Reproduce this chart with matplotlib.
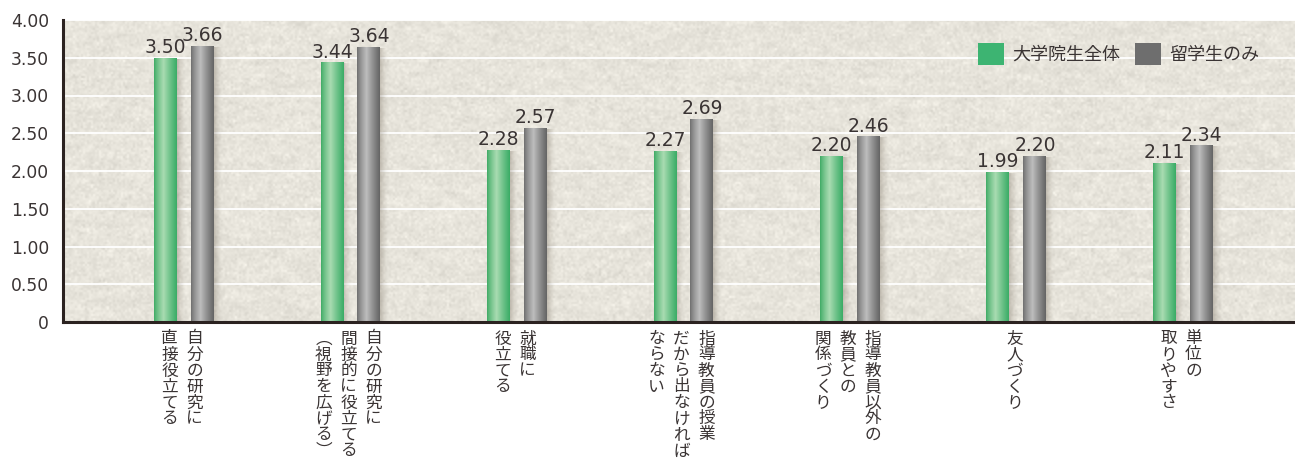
import numpy as np
import matplotlib
matplotlib.use("Agg")
import matplotlib.pyplot as plt
from matplotlib.patches import Patch
from matplotlib.transforms import ScaledTranslation

# ---- data ----
categories = [
    "自分の研究に\n直接役立てる",
    "自分の研究に\n間接的に役立てる\n︵視野を広げる︶",
    "就職に\n役立てる",
    "指導教員の授業\nだから出なければ\nならない",
    "指導教員以外の\n教員との\n関係づくり",
    "友人づくり",
    "単位の\n取りやすさ",
]
all_students = [3.50, 3.44, 2.28, 2.27, 2.20, 1.99, 2.11]
intl_students = [3.66, 3.64, 2.57, 2.69, 2.46, 2.20, 2.34]
series_names = ["大学院生全体", "留学生のみ"]
y_ticks = [0, 0.5, 1.0, 1.5, 2.0, 2.5, 3.0, 3.5, 4.0]

JP = "Noto Sans CJK JP"
NUM = "DejaVu Sans"
TEXT = "#3a3434"
GREEN = "#3db472"
GRAY = "#6e6e6e"

W, H, DPI = 1295, 459, 100
fig = plt.figure(figsize=(W / DPI, H / DPI), dpi=DPI)
fig.patch.set_facecolor("white")
ax = fig.add_axes([63 / W, (H - 322) / H, (W - 63) / W, 302 / H])

# ---- textured background ----
rng = np.random.default_rng(7)
th, tw = 151, 616
noise = rng.normal(0, 1, (th, tw))
k = np.ones(9) / 9
noise = np.apply_along_axis(lambda r: np.convolve(r, k, mode="same"), 1, noise)
k2 = np.ones(3) / 3
noise = np.apply_along_axis(lambda c: np.convolve(c, k2, mode="same"), 0, noise)
noise += 0.5 * rng.normal(0, 1, (th, tw))
noise = noise / noise.std()
base = np.array([231, 228, 219]) / 255.0
tex = base[None, None, :] + 0.024 * noise[:, :, None]
tex = np.clip(tex, 0, 1)
ax.imshow(tex, extent=[0, 1, 0, 1], transform=ax.transAxes, aspect="auto",
          zorder=0, interpolation="bilinear")

x = np.arange(len(categories))
off = 0.111
bw = 0.138
ax.set_xlim(-0.7267, 6.673)
ax.set_ylim(0, 4.0)

# grid
for yv in y_ticks[1:]:
    ax.axhline(yv, color="white", lw=1.3, zorder=1)

bars_g = ax.bar(x - off, all_students, bw, color=GREEN, zorder=3, linewidth=0)
bars_k = ax.bar(x + off, intl_students, bw, color=GRAY, zorder=3, linewidth=0)


def cyl(c_edge, c_mid, c_right):
    t = np.linspace(0, 1, 64)
    out = np.zeros((1, 64, 3))
    peak = 0.42
    for i, tv in enumerate(t):
        if tv <= peak:
            f = tv / peak
            col = c_edge + (c_mid - c_edge) * (f ** 0.8)
        else:
            f = (tv - peak) / (1 - peak)
            col = c_mid + (c_right - c_mid) * (f ** 0.9)
        out[0, i] = col
    return out


g_grad = cyl(np.array([62, 170, 100]) / 255, np.array([170, 220, 178]) / 255,
             np.array([58, 172, 102]) / 255)
k_grad = cyl(np.array([110, 110, 110]) / 255, np.array([190, 190, 190]) / 255,
             np.array([100, 100, 100]) / 255)

px = (6.673 + 0.7267) / (W - 63)  # data units per pixel
shadow = np.zeros((1, 32, 4))
shadow[0, :, 0:3] = np.array([120, 110, 95]) / 255
shadow[0, :, 3] = 0.35 * (1 - np.linspace(0, 1, 32)) ** 1.5

for bars, grad in ((bars_g, g_grad), (bars_k, k_grad)):
    for p in bars:
        x0, w, h = p.get_x(), p.get_width(), p.get_height()
        ax.imshow(shadow, extent=[x0 + w, x0 + w + 9 * px, 0, h - 0.02],
                  aspect="auto", zorder=2, interpolation="bilinear")
        im = ax.imshow(grad, extent=[x0, x0 + w, 0, h], aspect="auto",
                       zorder=3.5, interpolation="bilinear")
        im.set_clip_path(p)

# value labels
for bars, vals in ((bars_g, all_students), (bars_k, intl_students)):
    for p, v in zip(bars, vals):
        ax.annotate(f"{v:.2f}", (p.get_x() + p.get_width() / 2, v),
                    xytext=(0, 0.5), textcoords="offset points",
                    ha="center", va="bottom", fontsize=13.5, family=NUM,
                    color=TEXT, zorder=5)

# axes styling
ax.set_yticks(y_ticks)
ax.set_yticklabels(["0" if t == 0 else f"{t:.2f}" for t in y_ticks],
                   family=NUM, fontsize=12.3, color=TEXT)
ax.tick_params(axis="y", length=0, pad=10)
ax.set_xticks([])
for s in ("top", "right"):
    ax.spines[s].set_visible(False)
for s in ("left", "bottom"):
    ax.spines[s].set_color("#2b2220")
    ax.spines[s].set_linewidth(2.2)
    ax.spines[s].set_zorder(6)

# vertical (tategaki) category labels
pitch = 16.0
col_gap = 25
for i, lab in enumerate(categories):
    cols = lab.split("\n")
    n = len(cols)
    for j, col in enumerate(cols):
        dx = ((n - 1) / 2 - j) * col_gap - 2
        for kk, ch in enumerate(col):
            dy = 17 + kk * pitch
            tr = ax.get_xaxis_transform() + ScaledTranslation(
                dx / DPI, -dy / DPI, fig.dpi_scale_trans)
            ax.text(i, 0, ch, transform=tr, ha="center", va="center",
                    fontsize=12, family=JP, color=TEXT, clip_on=False)

# legend
handles = [Patch(facecolor=GREEN, edgecolor="none"),
           Patch(facecolor=GRAY, edgecolor="none")]
leg = ax.legend(handles, series_names, loc="center left",
                bbox_to_anchor=((978 - 63) / (W - 63), (322 - 54) / 302),
                ncol=2, frameon=False, prop={"family": JP, "size": 13},
                handlelength=1.45, handleheight=1.55, handletextpad=0.45,
                columnspacing=0.8, borderpad=0, borderaxespad=0)
for t in leg.get_texts():
    t.set_color(TEXT)

fig.savefig("out.png", dpi=DPI, facecolor="white")
